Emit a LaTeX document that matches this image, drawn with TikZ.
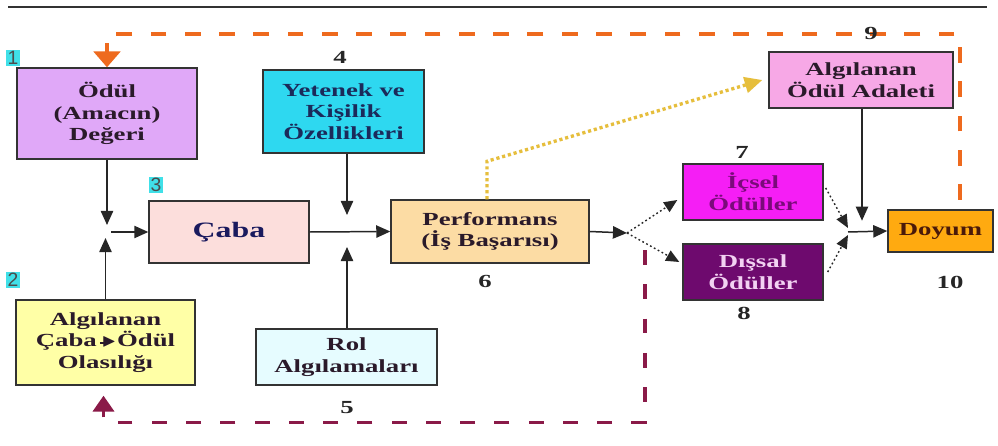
\documentclass[tikz,border=0pt]{standalone}
\usepackage{fontspec}
\usepackage{amssymb}
\setmainfont{Liberation Serif}[FakeStretch=1.45]
\newfontfamily\numfont{Liberation Sans}
\usetikzlibrary{arrows.meta,calc}
\definecolor{cOdul}{HTML}{E0A8F8}
\definecolor{cAlg}{HTML}{FFFFA6}
\definecolor{cCaba}{HTML}{FCDEDC}
\definecolor{cYet}{HTML}{2ED8F0}
\definecolor{cRol}{HTML}{E6FCFF}
\definecolor{cPerf}{HTML}{FCDCA4}
\definecolor{cAdalet}{HTML}{F7A8E6}
\definecolor{cIcsel}{HTML}{F51EF5}
\definecolor{cDissal}{HTML}{6E0A6E}
\definecolor{cDoyum}{HTML}{FFAA10}
\definecolor{cOrange}{HTML}{EE6A1E}
\definecolor{cGold}{HTML}{E6BE3C}
\definecolor{cMaroon}{HTML}{8A1A48}
\definecolor{cCyan}{HTML}{40E0E8}
\definecolor{tDark}{HTML}{2A1A2A}
\definecolor{tNavy}{HTML}{1B2A5A}
\definecolor{tCaba}{HTML}{1A1A5E}
\definecolor{tIcsel}{HTML}{7A0A7A}
\definecolor{tDissal}{HTML}{F2D2F2}
\definecolor{tDoyum}{HTML}{4A1A0A}
\definecolor{bord}{HTML}{333333}
\begin{document}
\begin{tikzpicture}[x=0.02cm,y=-0.02cm,
  box/.style={draw=bord, line width=0.8pt, align=center, inner sep=0pt,
    text=tDark, font=\fontsize{10.5}{12.4}\selectfont\bfseries},
  numlab/.style={font=\fontsize{10.5}{12}\selectfont\bfseries, text=black!85, inner sep=0pt},
  cyanlab/.style={fill=cCyan, font=\numfont\fontsize{11}{11}\selectfont, text=black!70, inner sep=0.7pt},
  arr/.style={-{Triangle[length=8pt,width=7pt]}, line width=0.85pt, draw=black!85},
  dotarr/.style={-{Triangle[length=7.5pt,width=6.5pt]}, line width=0.8pt, draw=black!85, dash pattern=on 1pt off 1.5pt},
  odash/.style={line width=2.2pt, draw=cOrange, dash pattern=on 9pt off 10.5pt, -{Triangle[length=9pt,width=15pt]}},
  mdash/.style={line width=1.8pt, draw=cMaroon, dash pattern=on 8.5pt off 11pt, -{Triangle[length=9pt,width=12pt]}},
  gdot/.style={line width=1.9pt, draw=cGold, dash pattern=on 1.8pt off 1.6pt, -{Triangle[length=10pt,width=9pt]}}
]
\useasboundingbox (0,0) rectangle (998,446);
\fill[white] (0,0) rectangle (998,446);
\draw[line width=0.7pt, black!80] (8,7) -- (987,7);

% boxes
\node[box, fill=cOdul, minimum width=3.6cm, minimum height=1.82cm] (odul) at (107,113.5) {Ödül\\(Amacın)\\Değeri};
\node[box, fill=cAlg, minimum width=3.58cm, minimum height=1.7cm] (alg) at (105.5,342.5) {Algılanan\\Çaba\,\rule[0.32ex]{0.22em}{0.13em}\kern-0.12em$\blacktriangleright$\kern0.05em Ödül\\Olasılığı};
\node[box, fill=cCaba, text=tCaba, minimum width=3.2cm, minimum height=1.24cm, font=\fontsize{12.5}{14}\selectfont\bfseries] (caba) at (229,232) {Çaba};
\node[box, fill=cYet, text=tNavy, minimum width=3.22cm, minimum height=1.66cm] (yet) at (343.5,111.5) {Yetenek ve\\Kişilik\\Özellikleri};
\node[box, fill=cRol, minimum width=3.62cm, minimum height=1.12cm] (rol) at (346.5,357) {Rol\\Algılamaları};
\node[box, fill=cPerf, minimum width=3.96cm, minimum height=1.26cm] (perf) at (490,231.5) {Performans\\(İş Başarısı)};
\node[box, fill=cAdalet, minimum width=3.68cm, minimum height=1.12cm] (adalet) at (861,80) {Algılanan\\Ödül Adaleti};
\node[box, fill=cIcsel, text=tIcsel, minimum width=2.8cm, minimum height=1.12cm] (icsel) at (753,192) {İçsel\\Ödüller};
\node[box, fill=cDissal, text=tDissal, minimum width=2.8cm, minimum height=1.12cm] (dissal) at (753,272) {Dışsal\\Ödüller};
\node[box, fill=cDoyum, text=tDoyum, minimum width=2.1cm, minimum height=0.84cm] (doyum) at (940.5,231) {Doyum};

% labels
\node[cyanlab] (l1) at (13,58) {1};
\node[cyanlab] (l2) at (13,280) {2};
\node[cyanlab] (l3) at (156,185) {3};
\node[numlab] (l4) at (340,57) {4};
\node[numlab] (l5) at (347,408) {5};
\node[numlab] (l6) at (485,281) {6};
\node[numlab] (l7) at (742,152) {7};
\node[numlab] (l8) at (744,313) {8};
\node[numlab] (l10) at (950,282) {10};

% junctions
\coordinate (j1) at (108,232);
\coordinate (j0) at (347,232);
\coordinate (j2) at (627,233);
\coordinate (j3) at (848,232);

% solid arrows
\draw[arr] (odul.south) -- (odul.south |- {(0,225)});
\draw[arr] (alg.north) -- (alg.north |- {(0,238)});
\draw[arr] ($(j1)+(3,0)$) -- (caba.west);
\draw[arr] (caba.east) -- (perf.west);
\draw[arr] (yet.south -| j0) -- ($(j0)+(0,-17)$);
\draw[arr] (rol.north -| j0) -- ($(j0)+(0,15)$);
\draw[arr] (perf.east) -- (j2);
\draw[arr] (j3) -- (doyum.west);
\draw[arr] ($(adalet.south)+(1,0)$) -- ($(adalet.south)+(1,112)$);

% dotted arrows
\draw[dotarr] (j2) -- ($(icsel.west)+(-5,8)$);
\draw[dotarr] (j2) -- ($(dissal.west)+(-3,-10)$);
\draw[dotarr] ($(icsel.east)+(2,-4)$) -- ($(j3)+(0,-4)$);
\draw[dotarr] ($(dissal.east)+(4,0)$) -- ($(j3)+(0,3)$);

% gold dotted
\draw[gdot] ($(perf.north)+(-3,0)$) -- ++(0,-38) -- ($(adalet.west)+(-6,0)$);

% orange dashed feedback
\coordinate (o0) at (960,200);
\draw[odash] (o0) |- ($(odul.north)+(0,-33)$) -- (odul.north);
\node[numlab] (l9) at (871,33) {9};

% maroon dashed feedback
\coordinate (m0) at (645,250);
\draw[mdash] (m0) |- ($(alg.south)+(-2,37)$) -- ($(alg.south)+(-2,10)$);
\end{tikzpicture}
\end{document}
